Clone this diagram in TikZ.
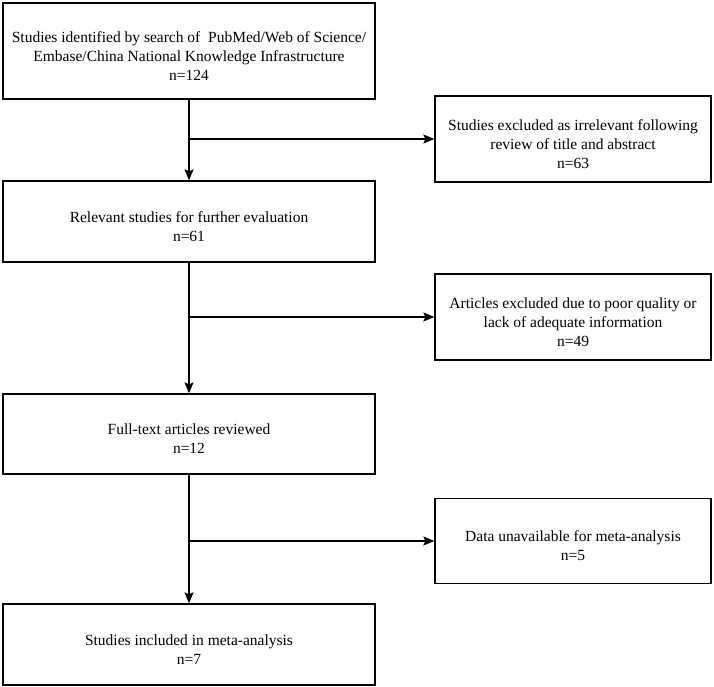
\documentclass[tikz,border=0pt]{standalone}
\usepackage{fontspec}
\setmainfont{Liberation Serif}
\usetikzlibrary{arrows.meta}
\begin{document}
\begin{tikzpicture}[x=1pt,y=-1pt,
  box/.style={draw,line width=1.3pt,inner sep=0pt},
  lbox/.style={box,minimum width=372pt},
  rbox/.style={box,minimum width=276pt},
  txt/.style={align=center,inner sep=0pt,yshift=-5pt,
    font=\fontsize{15.5}{19}\selectfont},
  conn/.style={line width=1.3pt,-{Stealth[length=11pt,width=9pt,inset=2pt]}}]
\useasboundingbox (0,0) rectangle (714,687);
\node[lbox,minimum height=96pt] (b1) at (189,51) {};
\node[txt] (t1) at (b1.center) {Studies identified by search of\ \ PubMed/Web of Science/\\Embase/China National Knowledge Infrastructure\\n=124};
\node[rbox,minimum height=86pt] (r1) at (573,139) {};
\node[txt] (tr1) at (r1.center) {Studies excluded as irrelevant following\\review of title and abstract\\n=63};
\node[lbox,minimum height=81pt] (b2) at (189,221.5) {};
\node[txt] (t2) at (b2.center) {Relevant studies for further evaluation\\n=61};
\node[rbox,minimum height=86pt] (r2) at (573,317) {};
\node[txt] (tr2) at (r2.center) {Articles excluded due to poor quality or\\lack of adequate information\\n=49};
\node[lbox,minimum height=80pt] (b3) at (189,434) {};
\node[txt] (t3) at (b3.center) {Full-text articles reviewed\\n=12};
\node[rbox,minimum height=85pt] (r3) at (573,541) {};
\node[txt] (tr3) at (r3.center) {Data unavailable for meta-analysis\\n=5};
\node[lbox,minimum height=81pt] (b4) at (189,644.5) {};
\node[txt] (t4) at (b4.center) {Studies included in meta-analysis\\n=7};
\draw[conn] (b1.south) -- (b2.north);
\draw[conn] (b2.south) -- (b3.north);
\draw[conn] (b3.south) -- (b4.north);
\draw[conn] (b1.south |- r1.west) -- (r1.west);
\draw[conn] (b2.south |- r2.west) -- (r2.west);
\draw[conn] (b3.south |- r3.west) -- (r3.west);
\end{tikzpicture}
\end{document}
